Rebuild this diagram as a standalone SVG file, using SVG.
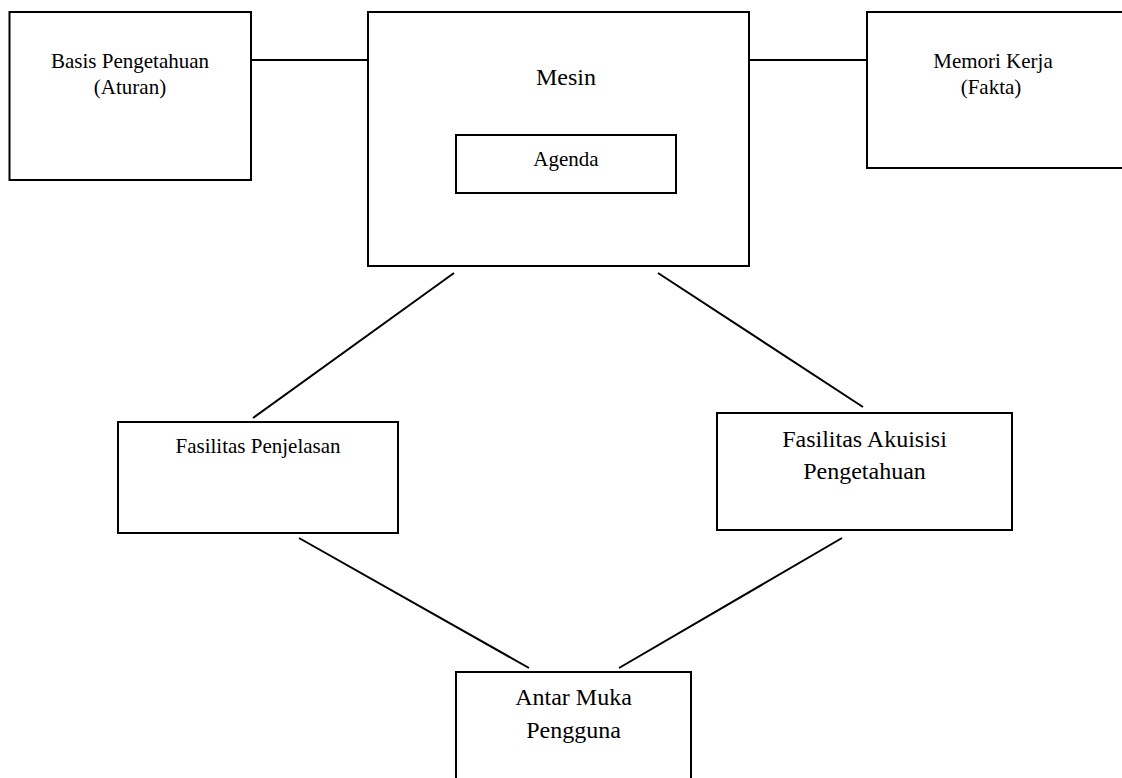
<svg xmlns="http://www.w3.org/2000/svg" width="1122" height="778" viewBox="0 0 1122 778">
<style>
.box{fill:#fff;stroke:#000;stroke-width:2}
.ln{stroke:#000;stroke-width:2;fill:none}
text{font-family:"Liberation Serif","Times New Roman",serif;fill:#000;text-anchor:middle}
.s{font-size:21px}
.l{font-size:24px}
</style>
<rect width="1122" height="778" fill="#fff"/>
<g id="connectors">
<line class="ln" x1="251" y1="60" x2="368" y2="60"/>
<line class="ln" x1="749" y1="60" x2="867" y2="60"/>
<line class="ln" x1="454" y1="273" x2="253" y2="418"/>
<line class="ln" x1="658" y1="273" x2="863" y2="407"/>
<line class="ln" x1="299" y1="538" x2="529" y2="668"/>
<line class="ln" x1="842" y1="538" x2="619" y2="668"/>
</g>
<g id="basis">
<rect class="box" x="9.5" y="12" width="241.5" height="168"/>
<text class="s" x="130" y="68">Basis Pengetahuan</text>
<text class="s" x="130" y="94">(Aturan)</text>
</g>
<g id="mesin">
<rect class="box" x="368" y="12" width="381" height="254"/>
<text class="l" x="566" y="85">Mesin</text>
</g>
<g id="agenda">
<rect class="box" x="456" y="135" width="220" height="58"/>
<text class="s" x="566" y="166">Agenda</text>
</g>
<g id="memori">
<rect class="box" x="867" y="12" width="265" height="156"/>
<text class="s" x="993" y="68">Memori Kerja</text>
<text class="s" x="991" y="94">(Fakta)</text>
</g>
<g id="penjelasan">
<rect class="box" x="118" y="422" width="280" height="111"/>
<text class="s" x="258" y="453">Fasilitas Penjelasan</text>
</g>
<g id="akuisisi">
<rect class="box" x="717" y="413" width="295" height="117"/>
<text class="l" x="864.5" y="447">Fasilitas Akuisisi</text>
<text class="l" x="864.5" y="479">Pengetahuan</text>
</g>
<g id="antarmuka">
<rect class="box" x="456" y="672" width="235" height="120"/>
<text class="l" x="573.5" y="705">Antar Muka</text>
<text class="l" x="573.5" y="738">Pengguna</text>
</g>
</svg>
